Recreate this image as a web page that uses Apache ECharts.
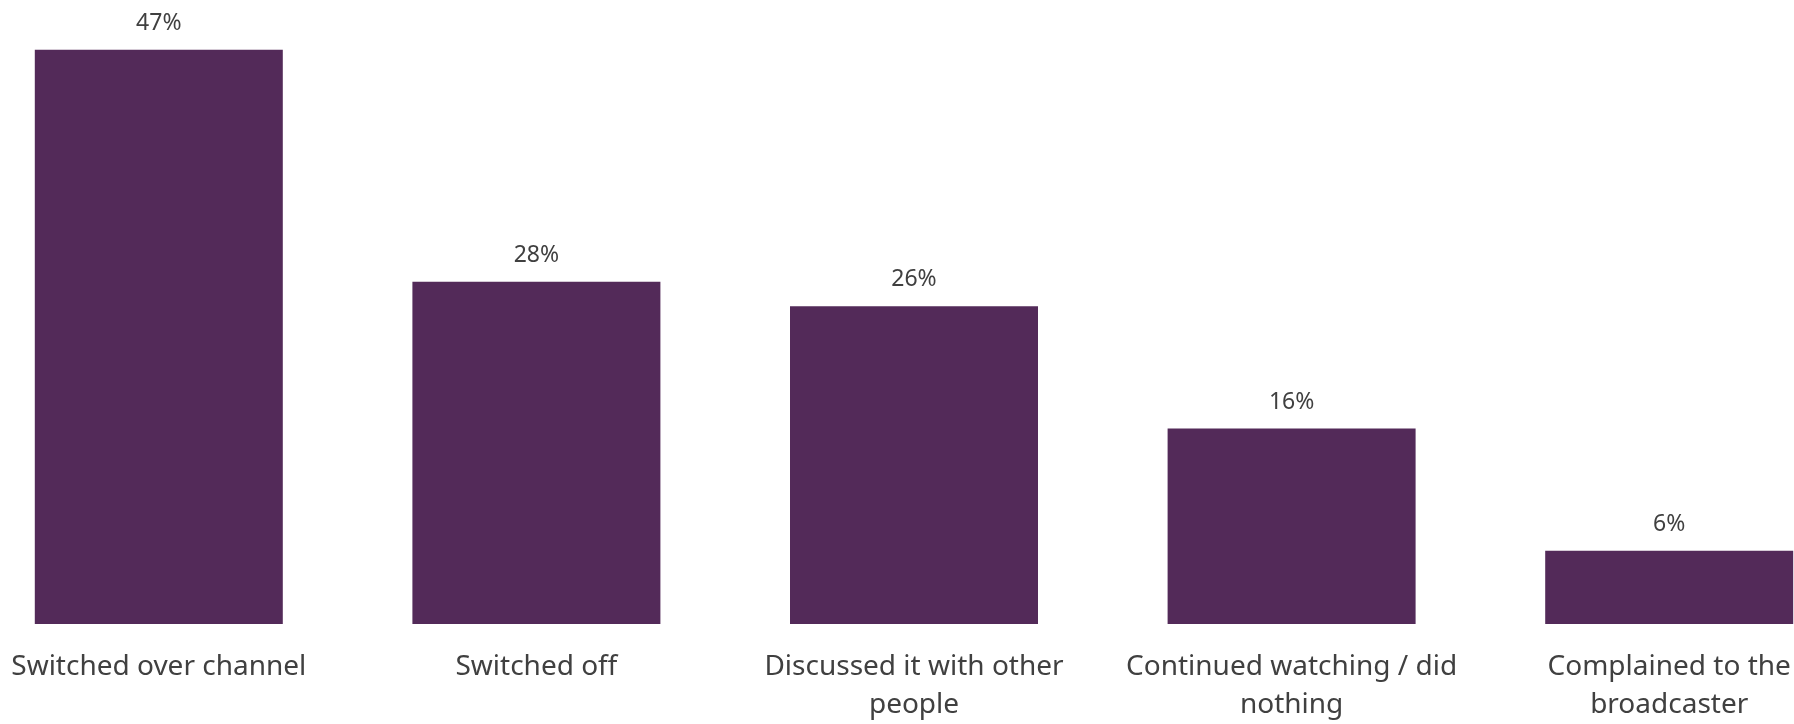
<!DOCTYPE html>
<html>
    <head>
        <meta charset="utf-8">
        <script src="https://cdn.jsdelivr.net/npm/echarts@6/dist/echarts.min.js"></script>
    </head>
    <body style="margin:0;overflow:hidden">
        <style>
            html, body {
                width: 100%;
                height: 100%;
                background: #fff;
            }
            /* bands run past both edges of the picture */
            #main {
                position: absolute;
                left: -30px;
                top: 0;
                width: 1888px;
                height: 724px;
            }
        </style>
        <div id="main"></div>
        <script>
            var categories = [
                'Switched over channel',
                'Switched off',
                'Discussed it with other\npeople',
                'Continued watching / did\nnothing',
                'Complained to the\nbroadcaster'
            ];
            var values = [47, 28, 26, 16, 6];

            var chart = echarts.init(document.getElementById('main'));

            chart.setOption({
                animation: false,
                grid: {
                    left: 0,
                    right: 0,
                    top: 13,
                    bottom: 94
                },
                xAxis: {
                    type: 'category',
                    data: categories,
                    axisLine: {show: false},
                    axisTick: {show: false},
                    axisLabel: {
                        interval: 0,
                        margin: 24,
                        fontFamily: 'Noto Sans',
                        fontSize: 28,
                        lineHeight: 38,
                        color: '#404040'
                    }
                },
                yAxis: {
                    type: 'value',
                    min: 0,
                    max: 50,
                    show: false
                },
                series: [
                    {
                        type: 'bar',
                        data: values,
                        barWidth: 248,
                        itemStyle: {color: '#532a59'},
                        label: {
                            show: true,
                            position: 'top',
                            distance: 15,
                            formatter: '{c}%',
                            fontFamily: 'Noto Sans',
                            fontSize: 23,
                            color: '#404040'
                        }
                    }
                ]
            });
        </script>
    </body>
</html>
